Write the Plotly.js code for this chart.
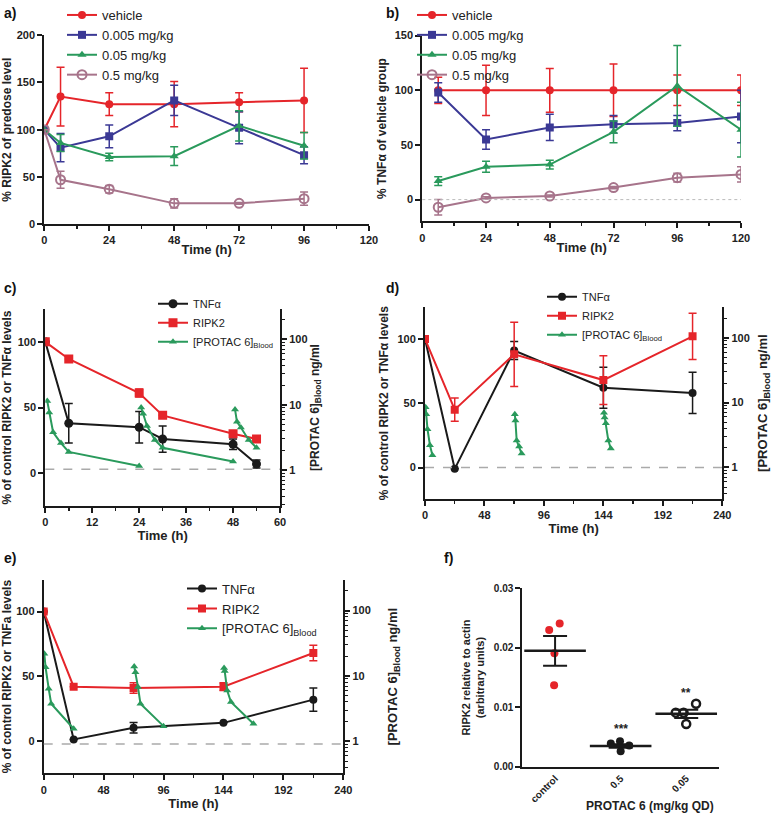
<!DOCTYPE html>
<html>
<head>
<meta charset="utf-8">
<script src="https://cdn.plot.ly/plotly-3.0.1.min.js"></script>
<style>
  body { margin: 0; background: #fff; }
  #chart { width: 772px; height: 814px; }
</style>
</head>
<body>
<div id="chart"></div>
<script>
// a) RIPK2 as % of predose level
const aTime = [0, 6, 24, 48, 72, 96];
const aVehicle = [100, 135, 127, 127, 129, 131];
const aVehicleErr = [0, 31, 12, 24, 10, 34];
const aDose005 = [100, 81, 93, 131, 102, 73];
const aDose005Err = [0, 15, 12, 16, 17, 9];
const aDose05 = [100, 86, 71, 72, 104, 83];
const aDose05Err = [0, 9, 4, 10, 16, 14];
const aDose5 = [100, 47, 37, 22, 22, 27];
const aDose5Err = [0, 9, 4, 5, 1, 7];

// b) TNFa as % of vehicle group
const bTime = [6, 24, 48, 72, 96, 120];
const bVehicle = [100, 100, 100, 100, 100, 100];
const bVehicleErr = [12, 23, 20, 24, 14, 14];
const bDose005 = [98, 55, 66, 69, 70, 76];
const bDose005Err = [9, 9, 12, 8, 7, 24];
const bDose05 = [17, 30, 32, 62, 104, 64];
const bDose05Err = [4, 5, 4, 10, 37, 25];
const bDose5 = [-7, 1.5, 3.3, 11, 20, 23];
const bDose5Err = [7, 1, 1, 1, 4, 7];

// c) single dosing, 0-54 h
const cTime = [0, 6, 24, 30, 48, 54];
const cTnf = [100, 38, 35, 26, 22, 7];
const cTnfErr = [0, 15, 12, 10, 4, 3];
const cRipk = [100, 87, 61, 44, 30, 26];
const cRipkErr = [0, 0, 3, 0, 0, 0];
const cPkTime = [0.5, 1, 2, 4, 6, 24, null, 24.5, 25, 26, 28, 30, 48, null, 48.5, 49, 50, 52, 54];
const cPkConc = [11.4, 7.6, 3.8, 2.6, 1.9, 1.16, null, 9.1, 7.3, 4.75, 2.9, 2.2, 1.36, null, 8.5, 5.5, 4.5, 2.9, 2.2];

// d) 0-240 h
const dTime = [0, 24, 72, 144, 216];
const dTnf = [100, -1, 91, 62, 58];
const dTnfErr = [0, 0, 7, 16, 16];
const dRipk = [100, 45, 88, 68, 102];
const dRipkErr = [0, 9, 25, 19, 18];
const dPkTime = [0.5, 1, 2, 4, 6, null, 72.5, 73, 74, 76, 78, null, 144.5, 145, 146, 148, 150];
const dPkConc = [8.5, 6.6, 3.9, 2.2, 1.55, null, 6.6, 5.3, 2.6, 2.1, 1.64, null, 7.0, 5.9, 4.8, 2.6, 1.96];

// e) 0-240 h
const eTime = [0, 24, 72, 144, 216];
const eTnf = [100, 1.3, 10.3, 14.1, 32];
const eTnfErr = [0, 0, 4, 0, 9];
const eRipk = [100, 42, 41, 42, 68];
const eRipkErr = [0, 0, 4, 3, 6];
const ePkTime = [0.5, 1.5, 4, 6, 24, null, 72.5, 73.5, 75.5, 77.5, 96, null, 144.5, 145, 147, 150, 168];
const ePkConc = [21.8, 13.6, 6.4, 3.76, 1.56, null, 14, 11.4, 6.8, 3.76, 1.71, null, 13.3, 11.9, 6.0, 4.0, 1.86];

// f) RIPK2 relative to actin
const fGroups = ['control', '0.5', '0.05'];
const fControl = [0.0230, 0.0241, 0.0191, 0.0137];
const fDose5 = [0.0039, 0.0043, 0.0026, 0.0036];
const fDose05 = [0.0091, 0.0091, 0.0106, 0.0072];
const fJitter = [[-0.09, 0.07, -0.01, -0.015], [-0.15, -0.01, 0, 0.13], [-0.16, -0.04, 0.15, 0]];
const fMean = [0.0195, 0.0035, 0.0089];
const fSem = [0.0025, 0.0003, 0.0007];
const fStars = ['', '***', '**'];
const fStarY = [0, 0.0064, 0.0124];

const FONT = 'Liberation Sans, Arial, sans-serif',
	RED = '#e5252a',
	BLUE = '#3b3995',
	GREEN = '#2a9a5c',
	MAUVE = '#a7748b',
	BLACK = '#1a1a1a';

function px(x) { return x / 772; }
function py(y) { return 1 - y / 814; }

function axis(extra) {
	var base = {
		showline: true, linecolor: BLACK, linewidth: 2,
		ticks: 'outside', ticklen: 5, tickwidth: 2, tickcolor: BLACK,
		showgrid: false, zeroline: false, automargin: false, fixedrange: true,
		tickfont: {family: FONT, size: 11, weight: 700, color: '#222'}
	};
	return Object.assign(base, extra);
}

function title(text, size, standoff) {
	return {text: text, standoff: standoff, font: {family: FONT, size: size, weight: 700, color: '#222'}};
}

function minor(dtick) {
	return {dtick: dtick, ticks: 'outside', ticklen: 3, tickwidth: 1.5, tickcolor: BLACK};
}

function err(arr, color) {
	return {type: 'data', array: arr, visible: true, color: color, thickness: 1.5, width: 4};
}

function series(x, y, e, name, color, symbol, size, xa, ya, legend) {
	var open = symbol.indexOf('open') > -1;
	return {
		x: x, y: y, name: name, type: 'scatter', mode: 'lines+markers',
		xaxis: xa, yaxis: ya, legend: legend,
		line: {color: color, width: 2},
		marker: {symbol: symbol, size: size, color: color, line: {color: color, width: open ? 2 : 0}},
		error_y: e ? err(e, color) : undefined
	};
}

const PK = '[PROTAC 6]<sub>Blood</sub>';

var data = [
	series(aTime, aVehicle, aVehicleErr, 'vehicle', RED, 'circle', 8, 'x', 'y', 'legend'),
	series(aTime, aDose005, aDose005Err, '0.005 mg/kg', BLUE, 'square', 8, 'x', 'y', 'legend'),
	series(aTime, aDose05, aDose05Err, '0.05 mg/kg', GREEN, 'triangle-up', 8, 'x', 'y', 'legend'),
	series(aTime, aDose5, aDose5Err, '0.5 mg/kg', MAUVE, 'circle-open', 9, 'x', 'y', 'legend'),

	series(bTime, bVehicle, bVehicleErr, 'vehicle', RED, 'circle', 8, 'x2', 'y2', 'legend2'),
	series(bTime, bDose005, bDose005Err, '0.005 mg/kg', BLUE, 'square', 8, 'x2', 'y2', 'legend2'),
	series(bTime, bDose05, bDose05Err, '0.05 mg/kg', GREEN, 'triangle-up', 8, 'x2', 'y2', 'legend2'),
	series(bTime, bDose5, bDose5Err, '0.5 mg/kg', MAUVE, 'circle-open', 9, 'x2', 'y2', 'legend2'),

	series(cTime, cTnf, cTnfErr, 'TNFα', BLACK, 'circle', 9, 'x3', 'y3', 'legend3'),
	series(cTime, cRipk, cRipkErr, 'RIPK2', RED, 'square', 9, 'x3', 'y3', 'legend3'),
	series(cPkTime, cPkConc, null, PK, GREEN, 'triangle-up', 7, 'x3', 'y4', 'legend3'),

	series(dTime, dTnf, dTnfErr, 'TNFα', BLACK, 'circle', 8, 'x4', 'y5', 'legend4'),
	series(dTime, dRipk, dRipkErr, 'RIPK2', RED, 'square', 8, 'x4', 'y5', 'legend4'),
	series(dPkTime, dPkConc, null, PK, GREEN, 'triangle-up', 7, 'x4', 'y6', 'legend4'),

	series(eTime, eTnf, eTnfErr, 'TNFα', BLACK, 'circle', 8, 'x5', 'y7', 'legend5'),
	series(eTime, eRipk, eRipkErr, 'RIPK2', RED, 'square', 8, 'x5', 'y7', 'legend5'),
	series(ePkTime, ePkConc, null, PK, GREEN, 'triangle-up', 7, 'x5', 'y8', 'legend5')
];

// f) scatter of individual animals plus mean +/- SEM
var fSets = [fControl, fDose5, fDose05],
	fStyles = [
		{symbol: 'circle', color: RED, line: {width: 0}},
		{symbol: 'circle', color: BLACK, line: {width: 0}},
		{symbol: 'circle-open', color: BLACK, line: {color: BLACK, width: 2.5}}
	];
fSets.forEach(function (vals, i) {
	data.push({
		x: vals.map(function (v, j) { return i + fJitter[i][j]; }),
		y: vals, type: 'scatter', mode: 'markers', showlegend: false,
		xaxis: 'x6', yaxis: 'y9',
		marker: Object.assign({size: 8}, fStyles[i])
	});
});
data.push({
	x: [0, 1, 2], y: fMean, type: 'scatter', mode: 'markers', showlegend: false,
	xaxis: 'x6', yaxis: 'y9',
	marker: {symbol: 'line-ew', size: 44, line: {color: BLACK, width: 2.5}},
	error_y: {type: 'data', array: fSem, visible: true, color: BLACK, thickness: 2, width: 12}
});

// legend x = left edge, text starts about 40px to the right
function leg(x, y, size) {
	return {
		x: px(x), y: py(y), xanchor: 'left', yanchor: 'top',
		bgcolor: 'rgba(0,0,0,0)', itemwidth: 30, tracegroupgap: 0,
		font: {family: FONT, size: size, color: '#222'}
	};
}

const YL = '% of control RIPK2 or TNFα levels';
const logMinor = {tickvals: [0.3, 0.4, 0.5, 0.6, 0.7, 0.8, 0.9, 2, 3, 4, 5, 6, 7, 8, 9, 20, 30, 40, 50, 60, 70, 80, 90, 200, 300],
	ticks: 'outside', ticklen: 3, tickwidth: 1, tickcolor: BLACK};

var layout = {
	width: 772, height: 814,
	margin: {l: 0, r: 0, t: 0, b: 0},
	paper_bgcolor: '#fff', plot_bgcolor: 'rgba(0,0,0,0)',
	font: {family: FONT, color: '#222'},

	xaxis: axis({domain: [px(44.3), px(369)], anchor: 'y', range: [0, 120], tick0: 0, dtick: 24, minor: minor(12),
		title: title('Time (h)', 13, 0)}),
	yaxis: axis({domain: [py(222.7), py(33.3)], anchor: 'x', range: [0, 200], dtick: 50,
		title: title('% RIPK2 of predose level', 12, 9)}),

	xaxis2: axis({domain: [px(422.3), px(741)], anchor: 'y2', range: [0, 120], tick0: 0, dtick: 24, minor: minor(12),
		title: title('Time (h)', 13, 0)}),
	yaxis2: axis({domain: [py(220), py(33.7)], anchor: 'x2', range: [-20, 150], tick0: 0, dtick: 50,
		title: title('% TNFα of vehicle group', 12, 6)}),

	xaxis3: axis({domain: [px(45.3), px(280)], anchor: 'y3', range: [0, 60], tick0: 0, dtick: 12, minor: minor(6),
		title: title('Time (h)', 13, 1)}),
	yaxis3: axis({domain: [py(505.2), py(307.8)], anchor: 'x3', range: [-25, 125], tick0: 0, dtick: 50,
		title: title(YL, 12, 5)}),
	yaxis4: axis({overlaying: 'y3', side: 'right', anchor: 'x3', type: 'log', range: [-0.548, 2.466],
		tickvals: [1, 10, 100], minor: logMinor, title: title(PK + ' ng/ml', 12, 3)}),

	xaxis4: axis({domain: [px(425), px(722.3)], anchor: 'y5', range: [0, 240], tick0: 0, dtick: 48, minor: minor(24),
		title: title('Time (h)', 13, 3)}),
	yaxis5: axis({domain: [py(498.3), py(306)], anchor: 'x4', range: [-24.5, 124.6], tick0: 0, dtick: 50,
		title: title(YL, 12, 6)}),
	yaxis6: axis({overlaying: 'y5', side: 'right', anchor: 'x4', type: 'log', range: [-0.487, 2.47],
		tickvals: [1, 10, 100], minor: logMinor, title: title(PK + ' ng/ml', 13, 30)}),

	xaxis5: axis({domain: [px(43.7), px(343.3)], anchor: 'y7', range: [0, 240], tick0: 0, dtick: 48, minor: minor(24),
		title: title('Time (h)', 13, 0)}),
	yaxis7: axis({domain: [py(773.3), py(579.3)], anchor: 'x5', range: [-24.9, 124.4], tick0: 0, dtick: 50,
		title: title('% of control RIPK2 or TNFa levels', 12, 3)}),
	yaxis8: axis({overlaying: 'y7', side: 'right', anchor: 'x5', type: 'log', range: [-0.49, 2.47],
		tickvals: [1, 10, 100], minor: logMinor, title: title(PK + ' ng/ml', 13, 18)}),

	xaxis6: axis({domain: [px(522.3), px(719)], anchor: 'y9', range: [-0.5, 2.5], tickvals: [0, 1, 2], ticktext: fGroups,
		ticks: '', tickangle: -45, tickfont: {family: FONT, size: 10, weight: 700, color: '#222'}}),
	yaxis9: axis({domain: [py(766.7), py(587.7)], anchor: 'x6', range: [0, 0.03], dtick: 0.01, tickformat: '.2f',
		tickfont: {family: FONT, size: 10, weight: 700, color: '#222'},
		title: title('RIPK2 relative to actin<br>(arbitrary units)', 11, 7)}),

	legend: leg(62, -2, 13),
	legend2: leg(412, -2, 13),
	legend3: leg(153, 288, 11),
	legend4: leg(542, 281, 11),
	legend5: leg(182, 573, 13),

	shapes: [
		{type: 'line', xref: 'x2 domain', yref: 'y2', x0: 0, x1: 1, y0: 0, y1: 0, line: {color: '#bbb', width: 1, dash: 'dot'}},
		{type: 'line', xref: 'x3 domain', yref: 'y3', x0: 0, x1: 1, y0: 3, y1: 3, line: {color: '#aaa', width: 1.5, dash: 'dash'}},
		{type: 'line', xref: 'x4 domain', yref: 'y5', x0: 0, x1: 1, y0: 0, y1: 0, line: {color: '#aaa', width: 1.5, dash: 'dash'}},
		{type: 'line', xref: 'x5 domain', yref: 'y7', x0: 0, x1: 1, y0: -2.3, y1: -2.3, line: {color: '#aaa', width: 1.5, dash: 'dash'}}
	],

	annotations: [
		['a)', 2, 11], ['b)', 384, 11], ['c)', 2, 287], ['d)', 384, 287], ['e)', 2, 557], ['f)', 442, 557]
	].map(function (p) {
		return {text: p[0], xref: 'paper', yref: 'paper', x: px(p[1]), y: py(p[2]), xanchor: 'left', yanchor: 'middle',
			showarrow: false, font: {family: FONT, size: 14, weight: 700, color: '#111'}};
	}).concat(fStars.map(function (s, i) {
		return {text: s, xref: 'x6', yref: 'y9', x: i, y: fStarY[i], showarrow: false, yanchor: 'middle',
			font: {family: FONT, size: 12, weight: 700, color: '#222'}};
	}).filter(function (a) { return a.text; })).concat([{
		text: 'PROTAC 6 (mg/kg QD)', xref: 'paper', yref: 'paper', x: px(650), y: py(806), showarrow: false,
		xanchor: 'center', yanchor: 'middle',
		font: {family: FONT, size: 12, weight: 700, color: '#222'}
	}])
};

Plotly.newPlot('chart', data, layout, {staticPlot: true});
</script>
</body>
</html>
